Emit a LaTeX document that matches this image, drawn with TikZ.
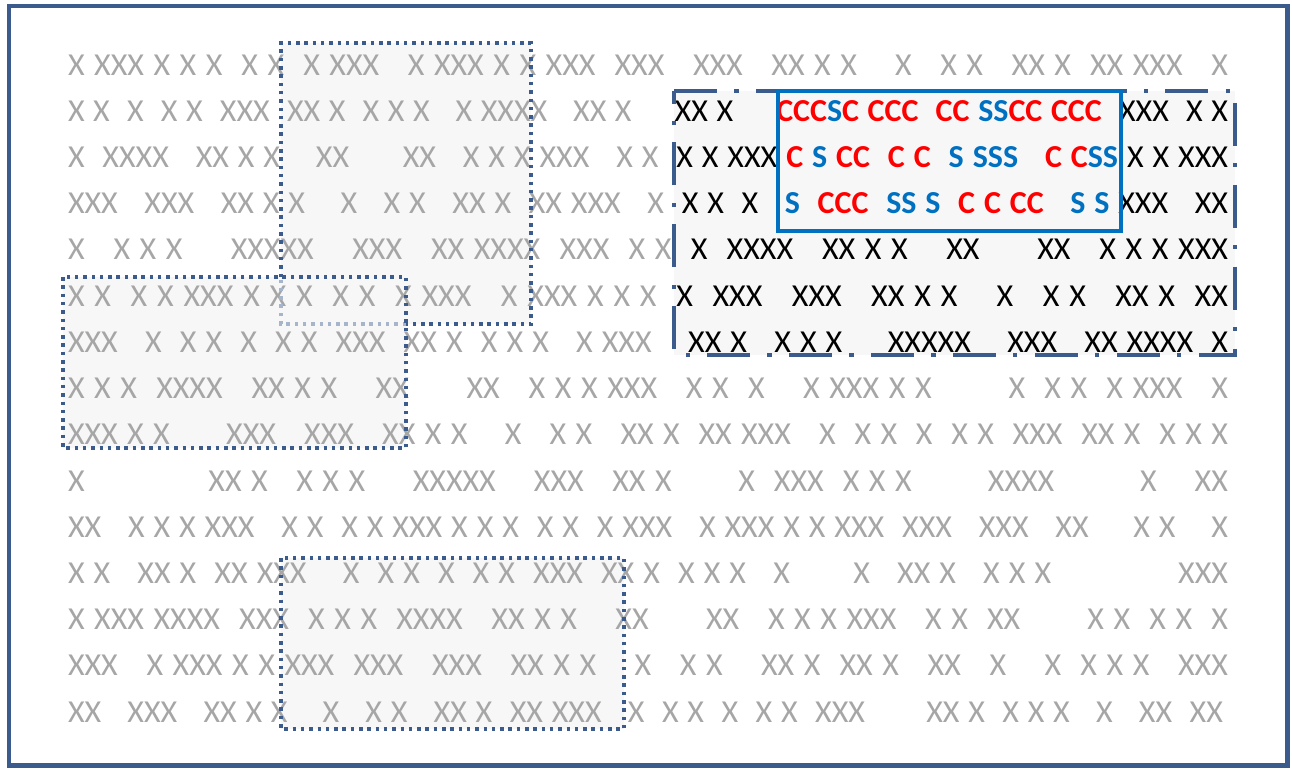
\documentclass[tikz,border=0pt]{standalone}
\usepackage{fontspec}
\setmainfont{Carlito}
\usepackage{xcolor}
\definecolor{xgray}{HTML}{A6A6A6}
\definecolor{frame}{HTML}{3B5B8C}
\definecolor{cblue}{HTML}{0070C0}
\definecolor{cred}{HTML}{FF0000}
\definecolor{boxfill}{HTML}{F7F7F7}
\def\Rd{\color{cred}\bfseries}
\def\Bl{\color{cblue}\bfseries}
\def\Bk{\color{black}\mdseries}
\def\rowgo#1{\ifx\relax#1\else\ifx.#1\ \else#1\fi\expandafter\rowgo\fi}
\newcommand\rowtext[2]{\makebox[#1][s]{\color{xgray}\rowgo#2\relax}}
\begin{document}
\begin{tikzpicture}[x=1pt,y=-1pt,
  rowtxt/.style={anchor=base west, inner sep=0pt, outer sep=0pt, font=\fontsize{32}{38}\selectfont},
  dotbox/.style={draw=frame, line width=3.2pt, dash pattern=on 3.5pt off 4.8pt},
  dashdotbox/.style={draw=frame, line width=4pt, dash pattern=on 43pt off 17.3pt on 4.3pt off 17.3pt},
  bluebox/.style={draw=cblue, line width=4pt},
  outerframe/.style={draw=frame, line width=4.5pt}]
\useasboundingbox (0,0) rectangle (1292,769);
% fills
\fill[boxfill] (281,43) rectangle (531,324);
\fill[boxfill] (63,277) rectangle (406,448);
\fill[boxfill] (281,558) rectangle (624,729);
\fill[boxfill] (674,90.5) rectangle (1235,355);
% text rows
\node[rowtxt] (r1) at (68,75.1) {\rowtext{1160pt}{X.XXX.X.X.X..X.X..X.XXX...X.XXX.X.X.XXX..XXX...XXX...XX.X.X....X...X.X...XX.X..XX.XXX...X}};
\node[rowtxt] (r2) at (68,121.3) {\rowtext{1160pt}{X.X..X..X.X..XXX..XX.X..X.X.X...X.XXXX...XX.X.....\Bk XX.X.....\Rd CCC\Bl S\Rd C.CCC..CC.\Bl SS\Rd CC.CCC..\Bk XXX..X.X}};
\node[rowtxt] (r3) at (68,167.5) {\rowtext{1160pt}{X..XXXX...XX.X.X....XX......XX...X.X.X.XXX...X.X..\Bk X.X.XXX.\Rd C.\Bl S.\Rd CC..C.C..\Bl S.SSS...\Rd C.C\Bl SS.\Bk X.X.XXX}};
\node[rowtxt] (r4) at (68,213.7) {\rowtext{1160pt}{XXX...XXX...XX.X.X....X...X.X...XX.X..XX.XXX...X..\Bk X.X..X...\Bl S..\Rd CCC..\Bl SS.S..\Rd C.C.CC...\Bl S.S.\Bk XXX...XX}};
\node[rowtxt] (r5) at (68,259.9) {\rowtext{1160pt}{X...X.X.X.....XXXXX....XXX...XX.XXXX..XXX..X.X..\Bk X..XXXX...XX.X.X....XX......XX...X.X.X.XXX}};
\node[rowtxt] (r6) at (68,306.2) {\rowtext{1160pt}{X.X..X.X.XXX.X.X.X..X.X..X.XXX...X.XXX.X.X.X..\Bk X..XXX...XXX...XX.X.X....X...X.X...XX.X..XX}};
\node[rowtxt] (r7) at (68,352.4) {\rowtext{1160pt}{XXX...X..X.X..X..X.X..XXX..XX.X..X.X.X...X.XXX....\Bk XX.X...X.X.X.....XXXXX....XXX...XX.XXXX..X}};
\node[rowtxt] (r8) at (68,398.6) {\rowtext{1160pt}{X.X.X..XXXX...XX.X.X....XX......XX...X.X.X.XXX...X.X..X....X.XXX.X.X........X..X.X..X.XXX...X}};
\node[rowtxt] (r9) at (68,444.8) {\rowtext{1160pt}{XXX.X.X......XXX...XXX...XX.X.X....X...X.X...XX.X..XX.XXX...X..X.X..X..X.X..XXX..XX.X..X.X.X}};
\node[rowtxt] (r10) at (68,491.0) {\rowtext{1160pt}{X.............XX.X...X.X.X.....XXXXX....XXX...XX.X.......X..XXX..X.X.X........XXXX.........X....XX}};
\node[rowtxt] (r11) at (68,537.2) {\rowtext{1160pt}{XX...X.X.X.XXX...X.X..X.X.XXX.X.X.X..X.X..X.XXX...X.XXX.X.X.XXX..XXX...XXX...XX.....X.X....X}};
\node[rowtxt] (r12) at (68,583.4) {\rowtext{1160pt}{X.X...XX.X..XX.XXX....X..X.X..X..X.X..XXX..XX.X..X.X.X...X.......X...XX.X...X.X.X..............XXX}};
\node[rowtxt] (r13) at (68,629.6) {\rowtext{1160pt}{X.XXX.XXXX..XXX..X.X.X..XXXX...XX.X.X....XX......XX...X.X.X.XXX...X.X..XX.......X.X..X.X..X}};
\node[rowtxt] (r14) at (68,675.8) {\rowtext{1160pt}{XXX...X.XXX.X.X.XXX..XXX...XXX...XX.X.X....X...X.X....XX.X..XX.X...XX...X....X..X.X.X...XXX}};
\node[rowtxt] (r15) at (68,722.0) {\rowtext{1155pt}{XX...XXX...XX.X.X....X...X.X...XX.X..XX.XXX...X..X.X..X..X.X..XXX.......XX.X..X.X.X...X...XX..XX}};
% borders
\draw[dotbox] (281,277) -- (281,43) -- (531,43) -- (531,324) -- (406,324);
\draw[dotbox, draw=frame!45!white] (406,324) -- (281,324) -- (281,277);
\draw[dotbox] (63,277) rectangle (406,448);
\draw[dotbox] (281,558) rectangle (624,729);
\draw[dashdotbox] (674,90.5) -- (1235,90.5) -- (1235,355) -- (674,355) -- cycle;
\draw[bluebox] (777.5,90.5) rectangle (1120.5,230.5);
\draw[outerframe] (8.8,5.8) rectangle (1287.5,765.5);
\end{tikzpicture}
\end{document}
